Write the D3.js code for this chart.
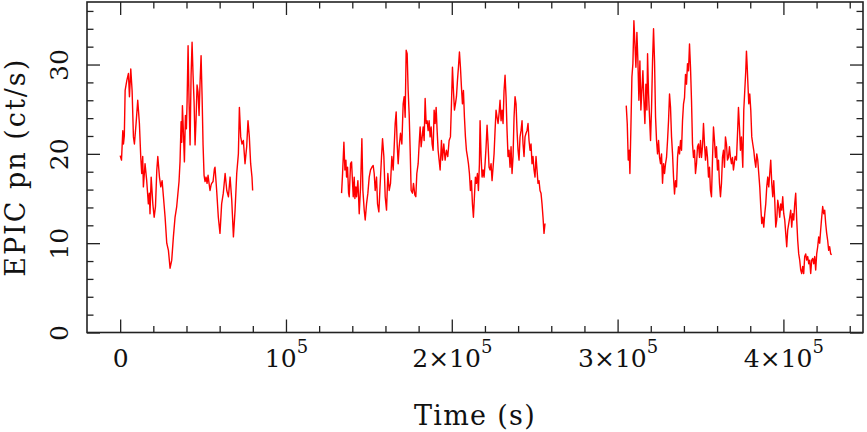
<!DOCTYPE html>
<html><head><meta charset="utf-8">
<script src="https://cdn.jsdelivr.net/npm/d3@7"></script>
<style>
html,body{margin:0;padding:0;background:#fff;}
svg{display:block;}
text{font-family:"DejaVu Serif",serif;fill:#111;}
</style>
</head><body>
<svg id="chart" width="867" height="432"></svg>
<script>
// ---- data (time in s, EPIC pn rate in ct/s) ----
const seg1 = [[0,19.8],[800,19.3],[1600,22.6],[2000,21.1],[2500,22.0],[3000,27.1],[4000,28.2],[5000,29.0],[5600,26.4],[6400,29.5],[7200,27.1],[8000,21.9],[8600,21.1],[9600,23.4],[10600,26.0],[11600,23.4],[12400,19.7],[13000,17.8],[13600,19.7],[14000,16.3],[15000,18.9],[16000,17.0],[17000,14.4],[17600,15.6],[18000,13.3],[18700,17.4],[19700,14.4],[20500,12.9],[21300,14.1],[22100,18.2],[22700,19.7],[23700,17.4],[24500,16.3],[25300,17.0],[26100,15.2],[27100,12.9],[28100,10.0],[29100,9.2],[30100,7.2],[31100,8.1],[32100,10.7],[33100,12.9],[34100,14.1],[35500,16.9],[36100,19.1],[36750,23.6],[37150,21.3],[37550,25.4],[38150,22.4],[38750,19.1],[39350,24.3],[39950,22.8],[40360,25.8],[40960,32.1],[41560,25.8],[42170,21.0],[42770,28.8],[43370,32.5],[43970,28.8],[44580,25.8],[45180,21.0],[45780,23.9],[46380,27.7],[46990,26.9],[47590,24.3],[48190,28.0],[48800,31.0],[49400,26.5],[50000,21.0],[50600,17.6],[51200,16.9],[51810,17.4],[52410,16.7],[53010,17.6],[53610,16.7],[54200,15.9],[54820,16.5],[55200,16.7],[56020,16.9],[56830,18.3],[57200,18.5],[58200,15.9],[59200,12.9],[60200,11.1],[61200,14.4],[62200,15.6],[63300,17.8],[64300,15.9],[65300,15.2],[66300,17.4],[67300,14.8],[68300,10.7],[69300,13.7],[70300,17.8],[71300,20.0],[71900,25.2],[72700,21.9],[73500,21.1],[74300,21.5],[75300,18.9],[76300,20.8],[77100,23.7],[77900,21.9],[78700,18.9],[79500,17.4],[79900,15.9]];

const seg2 = [[133530,15.6],[134134,17.8],[134938,21.3],[135540,18.2],[136142,19.3],[136544,17.4],[137146,18.5],[137750,15.6],[138150,15.2],[138954,18.9],[139556,19.1],[140160,16.7],[140560,15.2],[141162,17.4],[141564,15.0],[142166,16.3],[142568,15.2],[143370,17.0],[143772,15.2],[144174,13.3],[144978,16.3],[145780,21.7],[146384,15.9],[147186,13.7],[147790,12.6],[148592,14.4],[149395,15.6],[150200,17.4],[151000,18.2],[151800,18.5],[152600,18.7],[153210,17.8],[153810,15.9],[154620,17.4],[155220,14.4],[156020,13.5],[156620,15.9],[157630,19.7],[158230,21.7],[159030,19.7],[159840,15.2],[160640,13.7],[161440,17.8],[162250,15.9],[163050,16.7],[163850,19.7],[164660,18.2],[165260,20.8],[165860,23.4],[166460,24.7],[167060,21.1],[167670,18.9],[168270,20.8],[169070,22.3],[169880,21.1],[170680,25.6],[171280,26.4],[171880,24.1],[172490,31.6],[173090,31.2],[173690,27.1],[174290,24.5],[174900,20.4],[175500,15.9],[176300,15.6],[176900,16.7],[177710,15.4],[178310,15.2],[178910,17.8],[179720,18.9],[180320,21.1],[180920,23.0],[181520,20.8],[182130,21.9],[182730,23.0],[183330,21.5],[183930,26.2],[184540,23.4],[185140,23.7],[185740,22.6],[186340,23.7],[186940,21.9],[187550,23.0],[188150,21.1],[188750,20.4],[189350,24.9],[189960,23.4],[190560,25.2],[191160,22.6],[191760,20.4],[192370,19.3],[192970,18.2],[193770,21.5],[194370,19.3],[195180,21.1],[195980,19.3],[196780,20.4],[197590,19.7],[198390,21.5],[199190,21.9],[199800,25.6],[200400,29.7],[201000,27.1],[201600,24.9],[202210,25.6],[202810,26.4],[203410,28.2],[204010,29.7],[204620,31.4],[205220,29.7],[205820,27.5],[206420,25.6],[207030,27.1],[207630,24.1],[208230,21.9],[208830,20.4],[209440,19.7],[210040,18.9],[210640,17.8],[211240,15.9],[211840,17.0],[212450,14.4],[213050,12.9],[213650,15.2],[214250,17.4],[214850,16.7],[215460,17.8],[216060,15.9],[216660,18.9],[217060,23.7],[217670,19.7],[218270,17.4],[218870,18.2],[219470,17.4],[220080,18.9],[220680,20.8],[221280,23.2],[221880,21.1],[222490,18.5],[223090,18.2],[223690,18.9],[224290,17.0],[224900,18.5],[225500,20.0],[226100,22.6],[226700,24.9],[227310,24.1],[227910,23.4],[228510,24.5],[229110,26.0],[229720,23.7],[230320,24.9],[230920,23.4],[231520,27.1],[232130,28.8],[232730,26.4],[233330,22.6],[233930,19.7],[234540,20.4],[235140,18.5],[235740,20.8],[236340,17.8],[236950,19.7],[237550,24.1],[238150,26.4],[238750,25.6],[239350,22.6],[239960,20.4],[240560,19.3],[241160,21.9],[241760,22.6],[242370,23.7],[242970,21.1],[243570,19.7],[244170,21.9],[244780,22.3],[245380,22.6],[245980,23.4],[246580,21.5],[247190,20.4],[247790,21.1],[248390,18.9],[248990,19.7],[249600,18.2],[250200,17.4],[250800,19.7],[251400,18.2],[252010,16.7],[252610,17.0],[253210,15.9],[253810,15.6],[254420,14.4],[255020,12.9],[255620,11.1],[256220,12.2]];

const seg3 = [[305210,25.4],[305820,23.4],[306420,19.3],[307020,20.4],[307420,17.8],[308030,23.0],[308630,28.6],[309230,30.1],[309830,34.9],[310440,32.3],[311040,29.7],[311640,33.6],[312240,30.4],[312850,26.0],[313450,30.4],[314050,24.9],[314650,27.1],[315260,29.3],[315860,26.0],[316460,23.4],[317060,27.8],[317670,24.9],[318070,31.2],[318670,26.7],[319270,24.1],[319870,21.5],[320480,25.2],[321080,30.4],[321680,34.0],[322280,30.4],[322890,24.1],[323490,21.5],[324090,20.0],[324690,21.5],[325300,19.6],[325900,18.9],[326500,20.0],[327100,16.7],[327710,18.9],[328310,17.8],[328910,18.9],[329510,19.6],[330120,21.5],[330720,23.7],[331320,26.7],[331920,25.2],[332530,21.9],[333130,20.0],[333730,17.4],[334330,15.5],[334940,17.0],[335540,16.3],[336140,19.6],[336740,20.8],[337350,20.0],[337950,21.5],[338550,20.4],[339150,23.7],[339760,25.6],[340360,26.3],[340960,28.9],[341560,27.8],[342160,30.1],[342770,29.3],[343370,32.3],[343970,29.7],[344570,26.0],[345180,21.1],[345780,19.6],[346380,20.4],[346980,17.8],[347590,18.9],[348190,20.8],[348790,21.1],[349390,19.6],[350000,21.5],[350600,19.6],[351200,20.8],[351800,23.4],[352410,21.1],[353010,19.3],[353610,20.8],[354210,19.6],[354820,17.4],[355420,18.5],[356020,15.9],[356620,15.2],[357220,19.3],[357830,23.0],[358430,21.5],[359030,19.6],[359630,20.8],[360240,18.2],[360840,19.3],[361440,16.7],[362040,15.2],[362650,16.7],[363250,19.6],[363850,20.4],[364450,18.5],[365050,21.9],[365660,21.1],[366260,19.3],[366860,19.6],[367460,20.8],[368070,19.6],[368670,18.9],[369270,19.6],[369870,18.2],[370470,19.1],[370880,19.7],[371680,19.3],[372480,23.0],[372890,25.2],[373490,23.0],[374090,20.4],[374690,21.9],[375500,18.5],[376100,24.9],[376700,27.1],[377300,29.3],[377710,31.5],[378110,30.0],[378510,28.2],[379110,25.6],[379710,26.7],[380320,24.9],[380920,21.9],[381520,21.1],[382120,20.4],[382720,19.3],[383330,18.5],[383930,20.0],[384530,19.3],[385130,17.8],[385740,16.3],[386340,14.1],[386940,12.2],[387540,12.9],[388150,11.8],[388750,13.3],[389350,14.4],[389950,16.3],[390560,17.4],[391160,16.3],[391760,17.8],[392360,19.3],[392970,16.7],[393570,15.2],[394170,17.0],[394770,14.8],[395380,11.8],[395980,12.6],[396580,14.8],[397180,14.1],[397790,12.9],[398390,14.4],[398990,13.7],[399590,15.2],[400200,13.3],[400800,12.6],[401400,11.1],[402000,9.6],[402600,11.5],[403210,12.2],[403810,12.9],[404410,13.7],[405010,11.8],[405620,13.3],[406220,12.6],[406820,14.4],[407420,15.6],[408030,12.6],[408630,10.3],[409230,8.8],[409830,8.1],[410440,7.0],[411040,6.6],[411640,7.4],[412240,6.6],[412850,8.5],[413450,8.8],[414050,8.1],[414650,8.5],[415260,7.7],[415860,8.1],[416460,6.6],[417060,8.1],[417670,8.3],[418270,7.7],[418870,8.5],[419470,7.0],[420070,8.8],[420680,9.6],[421280,10.7],[421880,10.0],[422480,11.5],[423090,12.9],[423690,14.1],[424290,13.3],[424890,13.7],[425500,12.2],[426100,11.1],[426700,10.3],[427300,9.2],[427900,9.6],[428510,8.8],[429110,8.7]];

const segments = [seg1, seg2, seg3];

const xMajorTicks = [0, 100000, 200000, 300000, 400000];
const xTickLabels = [["0", ""], ["10", "5"], ["2×10", "5"], ["3×10", "5"], ["4×10", "5"]];
const yMajorTicks = [0, 10, 20, 30];
const yTickLabels = ["0", "10", "20", "30"];
const xTitle = "Time (s)";
const yTitle = "EPIC pn (ct/s)";

// ---- drawing ----
const svg = d3.select("#chart");
svg.append("rect").attr("width", 867).attr("height", 432).attr("fill", "#fff");

const L = 87, R = 863, T = 2, B = 332.5;
const x = d3.scaleLinear().domain([-20000, 448000]).range([L, R]);
const y = d3.scaleLinear().domain([0, 37]).range([B, T]);

const xMinor = d3.range(-20000, 448001, 20000).filter(v => v > -20000 && v % 100000 !== 0);
const yMinor = d3.range(2, 37, 2).filter(v => v % 10 !== 0);

const axisColor = "#222";
function styleAxis(g) {
  g.select(".domain").remove();
  g.selectAll(".tick line").attr("stroke", axisColor).attr("stroke-width", 1.3);
}
const MAJ = 13, MIN = 6.5;

// ticks on all four sides, pointing inward
svg.append("g").attr("transform", `translate(0,${B})`)
  .call(d3.axisBottom(x).tickValues(xMajorTicks).tickSize(-MAJ).tickFormat("")).call(styleAxis);
svg.append("g").attr("transform", `translate(0,${B})`)
  .call(d3.axisBottom(x).tickValues(xMinor).tickSize(-MIN).tickFormat("")).call(styleAxis);
svg.append("g").attr("transform", `translate(0,${T})`)
  .call(d3.axisTop(x).tickValues(xMajorTicks).tickSize(-MAJ).tickFormat("")).call(styleAxis);
svg.append("g").attr("transform", `translate(0,${T})`)
  .call(d3.axisTop(x).tickValues(xMinor).tickSize(-MIN).tickFormat("")).call(styleAxis);
svg.append("g").attr("transform", `translate(${L},0)`)
  .call(d3.axisLeft(y).tickValues(yMajorTicks).tickSize(-MAJ).tickFormat("")).call(styleAxis);
svg.append("g").attr("transform", `translate(${L},0)`)
  .call(d3.axisLeft(y).tickValues(yMinor).tickSize(-MIN).tickFormat("")).call(styleAxis);
svg.append("g").attr("transform", `translate(${R},0)`)
  .call(d3.axisRight(y).tickValues(yMajorTicks).tickSize(-MAJ).tickFormat("")).call(styleAxis);
svg.append("g").attr("transform", `translate(${R},0)`)
  .call(d3.axisRight(y).tickValues(yMinor).tickSize(-MIN).tickFormat("")).call(styleAxis);

// x tick labels (with superscript exponent)
const xLab = svg.append("g").attr("transform", `translate(0,${B})`)
  .call(d3.axisBottom(x).tickValues(xMajorTicks).tickSize(0).tickFormat((d, i) => xTickLabels[i][0]));
xLab.select(".domain").remove();
xLab.selectAll(".tick text").each(function(d, i) {
  const t = d3.select(this);
  t.text(null).attr("y", 34.5).attr("dy", null)
    .attr("font-size", 25).attr("font-family", "DejaVu Serif").attr("fill", "#111");
  t.append("tspan").text(xTickLabels[i][0]);
  if (xTickLabels[i][1]) t.append("tspan").attr("dy", -14).attr("font-size", 18).text(xTickLabels[i][1]);
});

// y tick labels (rotated, parallel to the axis)
const yLab = svg.append("g").attr("transform", `translate(${L},0)`)
  .call(d3.axisLeft(y).tickValues(yMajorTicks).tickSize(0).tickFormat((d, i) => yTickLabels[i]));
yLab.select(".domain").remove();
yLab.selectAll(".tick text")
  .attr("x", null).attr("dy", null)
  .attr("transform", "translate(-19,0) rotate(-90)")
  .attr("text-anchor", "middle")
  .attr("font-size", 25).attr("font-family", "DejaVu Serif").attr("fill", "#111");

// light curve
const line = d3.line().x(d => x(d[0])).y(d => y(d[1]));
svg.append("g").selectAll("path").data(segments).join("path")
  .attr("d", line).attr("fill", "none").attr("stroke", "#ff0000")
  .attr("stroke-width", 1.4).attr("stroke-linejoin", "round");

// frame
svg.append("rect").attr("x", L).attr("y", T).attr("width", R - L).attr("height", B - T)
  .attr("fill", "none").attr("stroke", axisColor).attr("stroke-width", 1.6);

// axis titles
svg.append("text").attr("x", (L + R) / 2).attr("y", 425).attr("text-anchor", "middle")
  .attr("font-size", 27).attr("letter-spacing", 1.3).text(xTitle);
svg.append("text").attr("transform", `translate(25,${(T + B) / 2}) rotate(-90)`)
  .attr("text-anchor", "middle").attr("font-size", 27).attr("letter-spacing", 2).text(yTitle);
</script>
</body></html>
